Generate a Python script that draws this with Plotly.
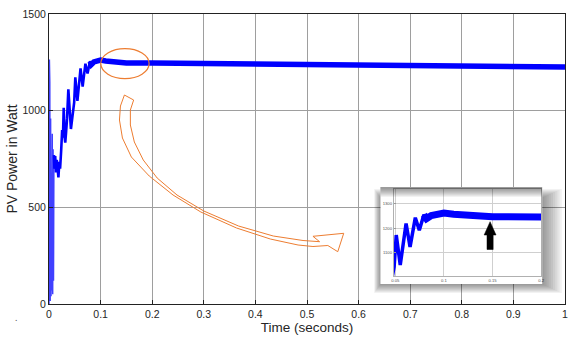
import numpy as np
import plotly.graph_objects as go

# ---------------- data ----------------
time_s = [0.0000, 0.0008, 0.0016, 0.0024, 0.0032, 0.0040, 0.0048, 0.0056, 0.0064, 0.0072,
          0.0080, 0.0088, 0.0096, 0.0105, 0.0120, 0.0135, 0.0150, 0.0165, 0.0183, 0.0200,
          0.0215, 0.0235, 0.0255, 0.0270, 0.0285, 0.0300, 0.0315, 0.0330, 0.0350, 0.0375,
          0.0400, 0.0425, 0.0450, 0.0470, 0.0488, 0.0510, 0.0551, 0.0611, 0.0652, 0.0706,
          0.0747, 0.0794, 0.0821, 0.0870, 0.0955, 0.1000, 0.1100, 0.1300, 0.1500, 0.2000,
          0.3000, 0.4000, 0.5000, 0.6000, 0.7000, 0.8000, 0.9000, 1.0000]
pv_power_w = [0, 1265, 1150, 15, 960, 40, 230, 70, 880, 50,
              800, 120, 770, 700, 765, 680, 745, 705, 655, 735,
              700, 790, 900, 860, 1015, 870, 835, 885, 960, 1110,
              1000, 905, 960, 1010, 1043, 1172, 1050, 1219, 1124, 1243,
              1192, 1255, 1239, 1252, 1260, 1262, 1257, 1250, 1247, 1246,
              1243, 1241, 1239, 1237, 1235, 1232, 1229, 1226]

x_ticks = [0, 0.1, 0.2, 0.3, 0.4, 0.5, 0.6, 0.7, 0.8, 0.9, 1]
x_tick_labels = ["0", "0.1", "0.2", "0.3", "0.4", "0.5", "0.6", "0.7", "0.8", "0.9", "1"]
y_ticks = [0, 500, 1000, 1500]
y_tick_labels = ["0", "500", "1000", "1500"]

inset_x_ticks = [0.05, 0.1, 0.15, 0.2]
inset_x_labels = ["0.05", "0.1", "0.15", "0.2"]
inset_y_ticks = [1100, 1200, 1300]
inset_y_labels = ["1100", "1200", "1300"]

t = np.array(time_s)
p = np.array(pv_power_w)
chatter = t <= 0.0105
transient = (t >= 0.0096) & (t <= 0.0870)
steady = t >= 0.0794

# ---------------- layout helpers ----------------
W_FIG, H_FIG = 570, 349
L, T, PW, PH = 49, 14, 520, 290


def px(x):
    return (x - L) / PW


def py(y):
    return (T + PH - y) / PH


BLUE = "#0000FF"
ORANGE = "#ED7D31"
FONT = "Liberation Sans, Arial, sans-serif"

fig = go.Figure()

# main plot
fig.add_trace(go.Scatter(x=t[chatter], y=p[chatter], mode="lines",
                         line=dict(color="rgba(0,0,255,0.75)", width=1.4),
                         xaxis="x", yaxis="y", showlegend=False, hoverinfo="skip"))
fig.add_trace(go.Scatter(x=t[transient], y=p[transient], mode="lines",
                         line=dict(color=BLUE, width=2.6),
                         xaxis="x", yaxis="y", showlegend=False, hoverinfo="skip"))
fig.add_trace(go.Scatter(x=t[steady], y=p[steady], mode="lines",
                         line=dict(color=BLUE, width=5.5),
                         xaxis="x", yaxis="y", showlegend=False, hoverinfo="skip"))

# white "picture" box behind the inset
fig.add_trace(go.Scatter(x=[None], y=[None], mode="lines", xaxis="x2", yaxis="y2",
                         showlegend=False, hoverinfo="skip"))

# inset (zoom of the same signal)
fig.add_trace(go.Scatter(x=t[transient], y=p[transient], mode="lines",
                         line=dict(color=BLUE, width=3.5),
                         xaxis="x3", yaxis="y3", showlegend=False, hoverinfo="skip"))
fig.add_trace(go.Scatter(x=t[steady], y=p[steady], mode="lines",
                         line=dict(color=BLUE, width=7),
                         xaxis="x3", yaxis="y3", showlegend=False, hoverinfo="skip"))

tick_font = dict(family=FONT, size=10.5, color="#262626")
small_font = dict(family=FONT, size=4.2, color="#555555")

box = (383, 187, 546, 284)
inset = (396.5, 189, 545, 276)

fig.update_layout(
    width=W_FIG, height=H_FIG,
    margin=dict(l=L, r=W_FIG - L - PW, t=T, b=H_FIG - T - PH),
    paper_bgcolor="white", plot_bgcolor="white",
    xaxis=dict(domain=[0, 1], range=[0, 1], tickvals=x_ticks, ticktext=x_tick_labels,
               showgrid=True, gridcolor="#9e9e9e", gridwidth=1, zeroline=False,
               showline=True, linecolor="#222", linewidth=1, mirror=True,
               ticks="inside", ticklen=4, tickcolor="#222", tickfont=tick_font,
               title=dict(text="Time (seconds)", font=dict(family=FONT, size=13.5, color="#262626"),
                          standoff=3)),
    yaxis=dict(domain=[0, 1], range=[0, 1500], tickvals=y_ticks, ticktext=y_tick_labels,
               showgrid=True, gridcolor="#9e9e9e", gridwidth=1, zeroline=False,
               showline=True, linecolor="#222", linewidth=1, mirror=True,
               ticks="inside", ticklen=4, tickcolor="#222", tickfont=tick_font,
               title=dict(text="PV Power in Watt", font=dict(family=FONT, size=14, color="#262626"),
                          standoff=1)),
    xaxis2=dict(domain=[px(box[0]), px(box[2])], range=[0, 1], visible=False, anchor="y2", fixedrange=True),
    yaxis2=dict(domain=[py(box[3]), py(box[1])], range=[0, 1], visible=False, anchor="x2", fixedrange=True),
    xaxis3=dict(domain=[px(inset[0]), px(inset[2])], range=[0.0485, 0.2], anchor="y3",
                tickvals=inset_x_ticks, ticktext=inset_x_labels, tickfont=small_font,
                showgrid=True, gridcolor="#cfcfcf", zeroline=False, showline=True,
                linecolor="#b0b0b0", mirror=True, ticks="", ticklabelstandoff=0),
    yaxis3=dict(domain=[py(inset[3]), py(inset[1])], range=[1005, 1360], anchor="x3",
                tickvals=inset_y_ticks, ticktext=inset_y_labels, tickfont=small_font,
                showgrid=True, gridcolor="#cfcfcf", zeroline=False, showline=True,
                linecolor="#b0b0b0", mirror=True, ticks="inside", ticklen=2, tickcolor="#999"),
)

shapes = []

# drop shadow of the inset picture (layers around the box, not over it)
bx0, by0, bx1, by1 = box
for k in range(1, 10):
    ox0 = bx0 - 0.7 * k
    oy0 = by0 + 11 - k
    ox1 = bx1 + 2.2 * k
    oy1 = by1 + 1.0 * k
    path = (f"M{px(ox0)},{py(oy0)} L{px(ox1)},{py(oy0)} L{px(ox1)},{py(oy1)} L{px(ox0)},{py(oy1)} Z "
            f"M{px(bx0)},{py(by0)} L{px(bx1)},{py(by0)} L{px(bx1)},{py(by1)} L{px(bx0)},{py(by1)} Z")
    shapes.append(dict(type="path", path=path, xref="paper", yref="paper",
                       fillcolor="rgba(0,0,0,0.05)", line=dict(width=0),
                       fillrule="evenodd", layer="above"))

# orange ellipse around the zoomed region
shapes.append(dict(type="circle", xref="x", yref="y", x0=0.1004, x1=0.194, y0=1166, y1=1321,
                   line=dict(color=ORANGE, width=1.2), layer="above"))

# hollow curved orange arrow (ribbon outline)
edge_a = [(125, 95), (134.3, 100), (131, 110), (131, 125), (135, 142), (144, 160), (158, 178),
          (178, 195), (205, 211), (240, 226), (275, 236), (305, 240.5), (321.7, 241.7)]
head = [(315, 236.3), (346, 233.3), (340, 251.7), (330, 245.5)]
edge_b = [(315, 246.5), (300, 245), (272, 239), (238, 228), (202, 212), (174, 195), (150, 176),
          (132, 157), (123, 138), (120, 120), (121, 106)]
pts = edge_a + head + edge_b
path = "M" + " L".join(f"{px(a)},{py(b)}" for a, b in pts) + " Z"
shapes.append(dict(type="path", path=path, xref="paper", yref="paper",
                   line=dict(color=ORANGE, width=1), layer="above"))

# black arrow inside the inset
arrow = [(493.5, 221.7), (499.5, 235), (496.6, 235), (496.6, 249.5), (490.4, 249.5),
         (490.4, 235), (487.5, 235)]
path = "M" + " L".join(f"{px(a)},{py(b)}" for a, b in arrow) + " Z"
shapes.append(dict(type="path", path=path, xref="paper", yref="paper",
                   fillcolor="black", line=dict(color="black", width=0.5), layer="above"))

fig.update_layout(shapes=shapes)

fig.add_annotation(text=".", x=px(13), y=py(326), xref="paper", yref="paper",
                   showarrow=False, font=dict(size=9, color="#444"))

fig.write_html("out.html")
